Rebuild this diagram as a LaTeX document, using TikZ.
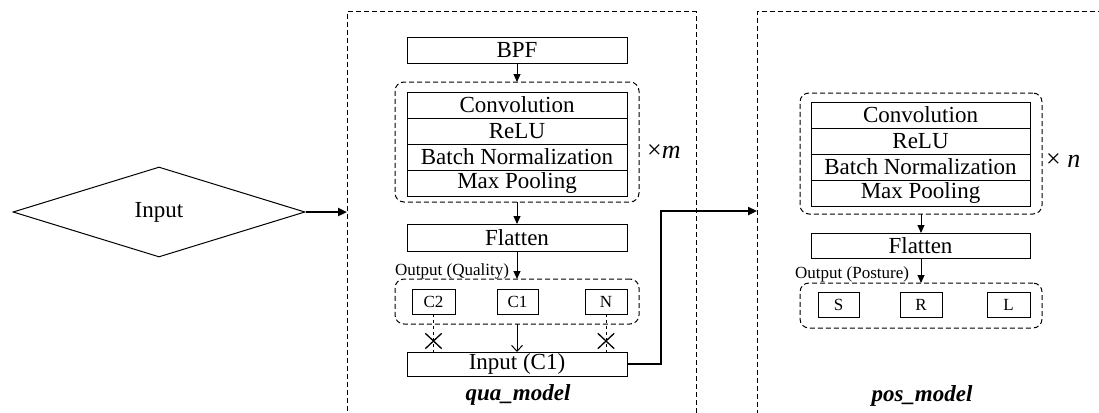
\documentclass[tikz,border=0pt]{standalone}
\usepackage{fontspec}
\setmainfont{Liberation Serif}
\usetikzlibrary{shapes.geometric,shapes.misc,arrows.meta}
\begin{document}
\begin{tikzpicture}[x=1pt,y=-1pt,
  font=\fontsize{23}{25}\selectfont,
  box/.style={draw,line width=1pt,inner sep=0pt,outer sep=0pt,minimum height=25pt},
  layer/.style={box,minimum width=220pt,minimum height=26pt},
  cls/.style={box,font=\fontsize{17}{19}\selectfont},
  region/.style={draw,dash pattern=on 5pt off 3pt,line width=1pt,inner sep=0pt,outer sep=0pt},
  group/.style={region,rounded corners=9pt},
  arr/.style={-{Triangle[length=8pt,width=7pt]},line width=1pt},
  openarr/.style={-{Straight Barb[length=6pt,width=11pt]},line width=1pt},
  thickarr/.style={-{Triangle[length=9pt,width=8pt]},line width=2.6pt},
  xmark/.style={cross out,draw,line width=1.3pt,minimum width=15pt,minimum height=14pt,inner sep=0pt},
  small/.style={font=\fontsize{17}{19}\selectfont,inner sep=0pt},
  mult/.style={font=\fontsize{26}{28}\selectfont,inner sep=0pt},
  title/.style={font=\fontsize{23}{25}\selectfont\bfseries\itshape,inner sep=0pt}
]
\useasboundingbox (0,0) rectangle (1099,412);
\clip (0,0) rectangle (1099,412);
% regions
\node[region,minimum width=349pt,minimum height=428pt] (qua) at (521.5,226) {};
\node[region,minimum width=363pt,minimum height=428pt] (pos) at (938.5,226) {};
% input diamond
\node[diamond,draw,line width=1pt,minimum width=292pt,minimum height=90pt,inner sep=0pt,shape aspect=3.24] (in) at (159,212) {Input};
% qua_model
\node[box,minimum width=220pt] (bpf) at (517,50.5) {BPF};
\node[group,minimum width=244pt,minimum height=120pt] (qgrp) at (517,142) {};
\node[layer] (qconv) at (517,105) {Convolution};
\node[layer] (qrelu) at (517,131) {ReLU};
\node[layer] (qbn) at (517,157) {Batch Normalization};
\node[layer] (qmp) at (517,183) {Max Pooling};
\node[mult,anchor=west] (xm) at (647,152) {×\textit{m}};
\node[box,minimum width=220pt,minimum height=27pt] (qflat) at (517,237.5) {Flatten};
\node[small,anchor=base west] (qoutl) at (395,275) {Output (Quality)};
\node[group,minimum width=244pt,minimum height=45pt] (qout) at (517,301.5) {};
\node[cls,minimum width=43pt] (c2) at (433.5,301.5) {C2};
\node[cls,minimum width=41pt] (c1) at (517.5,301.5) {C1};
\node[cls,minimum width=42pt] (nn) at (606,301.5) {N};
\node[box,minimum width=220pt,minimum height=24pt] (inc1) at (517,364) {Input (C1)};
\node[title,anchor=base] (qt) at (518,400) {qua\_model};
\draw[arr] (bpf.south) -- (qgrp.north);
\draw[arr] (qgrp.south) -- (qflat.north);
\draw[arr] (qflat.south) -- (qout.north);
\draw[openarr] (qout.south) -- (inc1.north);
\draw[dashed,line width=0.8pt] (c2.south) -- (c2.south |- inc1.north);
\draw[dashed,line width=0.8pt] (nn.south) -- (nn.south |- inc1.north);
\node[xmark] (x1) at (433.5,341) {};
\node[xmark] (x2) at (606,341) {};
% pos_model
\node[group,minimum width=242pt,minimum height=121pt] (pgrp) at (921,153.5) {};
\node[layer,minimum width=219pt] (pconv) at (920.5,115) {Convolution};
\node[layer,minimum width=219pt] (prelu) at (920.5,141) {ReLU};
\node[layer,minimum width=219pt] (pbn) at (920.5,167) {Batch Normalization};
\node[layer,minimum width=219pt] (pmp) at (920.5,193) {Max Pooling};
\node[mult,anchor=west] (xn) at (1046,161) {× \textit{n}};
\node[box,minimum width=219pt] (pflat) at (920.5,245.5) {Flatten};
\node[small,anchor=base west] (poutl) at (795,278) {Output (Posture)};
\node[group,minimum width=242pt,minimum height=45pt] (pout) at (921,305.5) {};
\node[cls,minimum width=41pt] (cs) at (838.5,304.5) {S};
\node[cls,minimum width=42pt] (cr) at (921,304.5) {R};
\node[cls,minimum width=43pt] (cl) at (1008.5,304.5) {L};
\node[title,anchor=base] (pt) at (922,401) {pos\_model};
\draw[arr] (pgrp.south) -- (pgrp.south |- pflat.north);
\draw[arr] (pflat.south -| pgrp.south) -- (pout.north);
% connectors between parts
\draw[thickarr] (in.east) -- (in.east -| qua.west);
\coordinate (bend) at (661,211);
\draw[thickarr] (inc1.east) -| (bend) -- (bend -| pos.west);
\end{tikzpicture}
\end{document}
